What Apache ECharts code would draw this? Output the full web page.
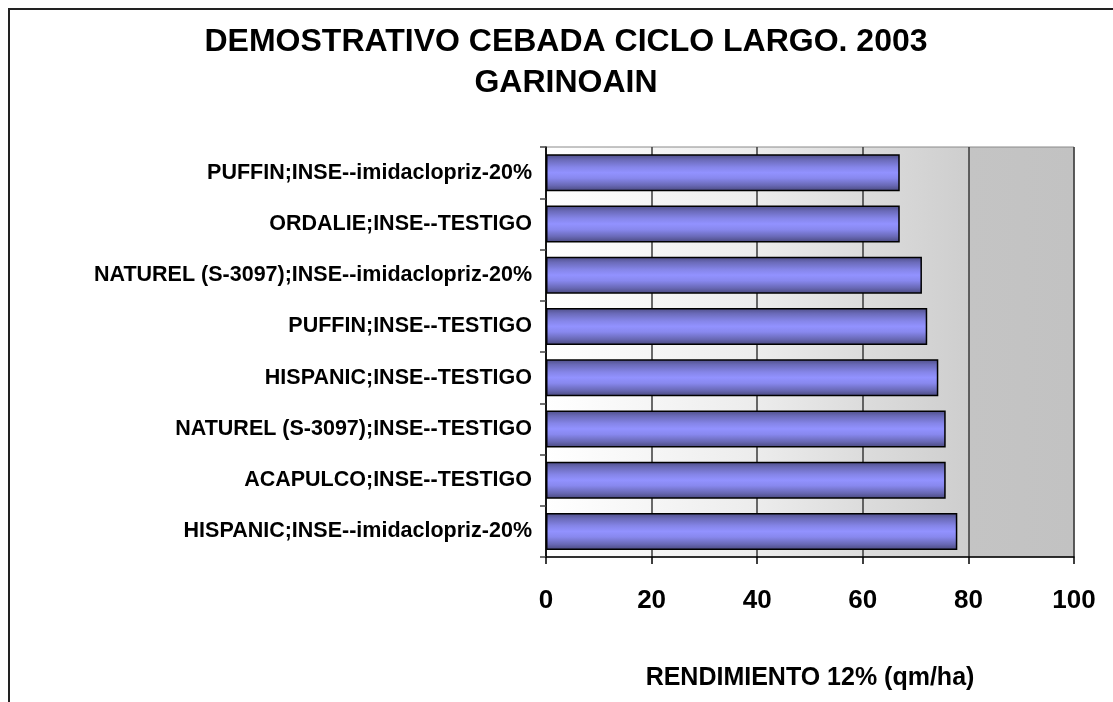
<!DOCTYPE html>
<html>
<head>
<meta charset="utf-8">
<script src="https://cdn.jsdelivr.net/npm/echarts@6/dist/echarts.min.js"></script>
<style>
  html, body { margin: 0; padding: 0; background: #fff; }
  #chart { width: 1113px; height: 702px; }
</style>
</head>
<body>
<div id="chart"></div>
<script>
// categories listed bottom -> top (ECharts category y axis starts at the bottom)
const categories = [
  'HISPANIC;INSE--imidaclopriz-20%',
  'ACAPULCO;INSE--TESTIGO',
  'NATUREL (S-3097);INSE--TESTIGO',
  'HISPANIC;INSE--TESTIGO',
  'PUFFIN;INSE--TESTIGO',
  'NATUREL (S-3097);INSE--imidaclopriz-20%',
  'ORDALIE;INSE--TESTIGO',
  'PUFFIN;INSE--imidaclopriz-20%',
];
const rendimiento = [77.9, 75.7, 75.7, 74.3, 72.2, 71.2, 67.0, 67.0];

const titleText = 'DEMOSTRATIVO CEBADA CICLO LARGO. 2003\nGARINOAIN';
const axisName = 'RENDIMIENTO 12% (qm/ha)';

const FONT = '"Liberation Sans", Arial, sans-serif';

const chart = echarts.init(document.getElementById('chart'));

const barFill = new echarts.graphic.LinearGradient(0, 0, 0, 1, [
  { offset: 0, color: '#4c4c84' },
  { offset: 0.15, color: '#6a6ab8' },
  { offset: 0.35, color: '#8585e8' },
  { offset: 0.5, color: '#9292ff' },
  { offset: 0.65, color: '#8888ee' },
  { offset: 0.85, color: '#6868b4' },
  { offset: 1, color: '#48487c' },
]);

const plotBg = new echarts.graphic.LinearGradient(0, 0, 1, 0, [
  { offset: 0, color: '#ffffff' },
  { offset: 0.4, color: '#ececec' },
  { offset: 0.6, color: '#dcdcdc' },
  { offset: 0.8, color: '#cecece' },
  { offset: 0.801, color: '#c4c4c4' },
  { offset: 1, color: '#c2c2c2' },
]);

chart.setOption({
  animation: false,
  backgroundColor: '#ffffff',
  title: {
    text: titleText,
    left: 566,
    textAlign: 'center',
    top: 22,
    padding: 0,
    textStyle: {
      fontFamily: FONT,
      fontSize: 32,
      fontWeight: 'bold',
      color: '#000',
      lineHeight: 41,
    },
  },
  graphic: [
    {
      type: 'polyline',
      shape: { points: [[9, 720], [9, 9], [1120, 9]] },
      style: { stroke: '#222', lineWidth: 2, fill: null },
      silent: true,
    },
  ],
  grid: {
    left: 546,
    right: 39,
    top: 147,
    bottom: 145,
    show: true,
    backgroundColor: plotBg,
    borderColor: '#8a8a8a',
    borderWidth: 1,
  },
  xAxis: {
    type: 'value',
    min: 0,
    max: 100,
    interval: 20,
    name: axisName,
    nameLocation: 'middle',
    nameGap: 109,
    nameTextStyle: {
      fontFamily: FONT,
      fontSize: 25,
      fontWeight: 'bold',
      color: '#000',
    },
    axisLine: { show: true, lineStyle: { color: '#000', width: 1.5 } },
    axisTick: { show: true, length: 7, lineStyle: { color: '#000', width: 1.5 } },
    axisLabel: {
      margin: 31,
      fontFamily: FONT,
      fontSize: 26,
      fontWeight: 'bold',
      color: '#000',
    },
    splitLine: { show: true, lineStyle: { color: '#3a3a3a', width: 1.5 } },
  },
  yAxis: {
    type: 'category',
    data: categories,
    axisLine: { show: true, lineStyle: { color: '#000', width: 1.5 } },
    axisTick: { show: true, length: 6, lineStyle: { color: '#444', width: 1.5 } },
    axisLabel: {
      margin: 14,
      fontFamily: FONT,
      fontSize: 21.5,
      fontWeight: 'bold',
      color: '#000',
    },
    splitLine: { show: false },
  },
  series: [
    {
      type: 'bar',
      data: rendimiento,
      barWidth: 37,
      itemStyle: {
        color: barFill,
        borderColor: '#000',
        borderWidth: 1.5,
      },
    },
  ],
});
</script>
</body>
</html>
